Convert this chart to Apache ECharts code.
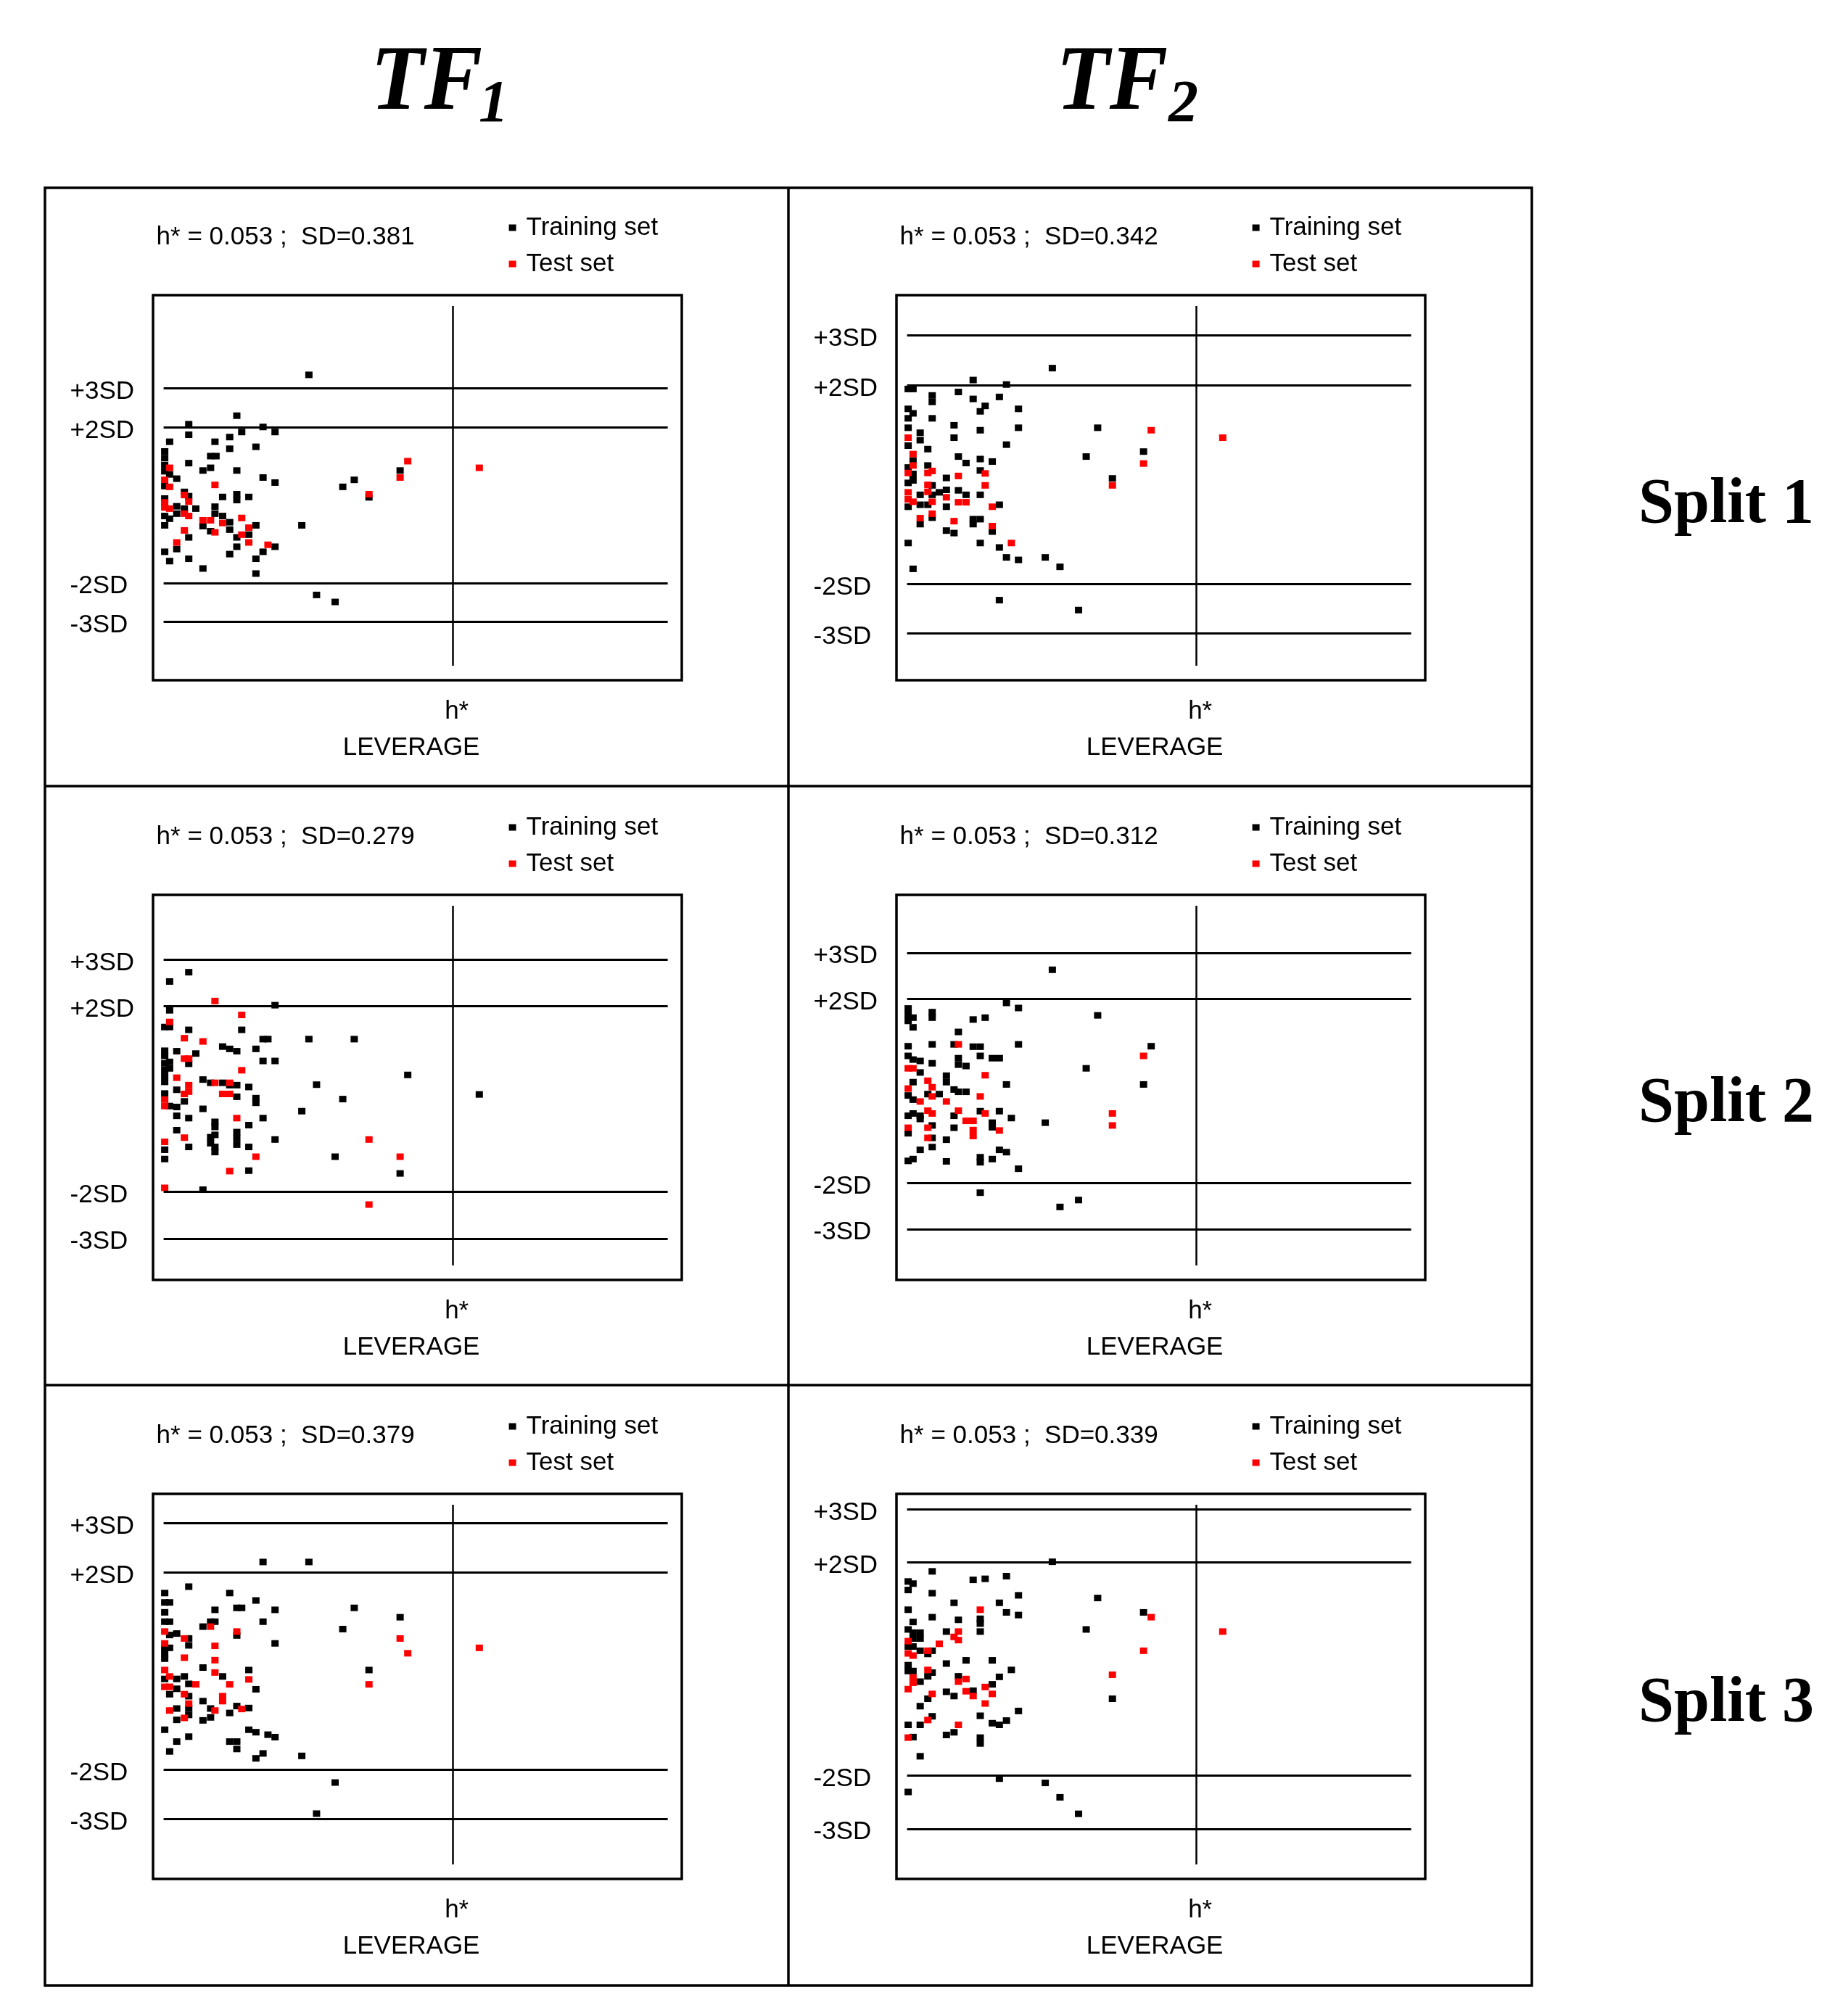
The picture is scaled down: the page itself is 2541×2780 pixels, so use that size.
<!DOCTYPE html>
<html>
<head>
<meta charset="utf-8">
<script src="https://cdn.jsdelivr.net/npm/echarts@6/dist/echarts.min.js"></script>
<style>
html, body { margin: 0; padding: 0; background: #fff; }
#chart { width: 2541px; height: 2780px; }
</style>
</head>
<body>
<div id="chart"></div>
<script>
// Williams plots: leverage vs standardized residual, 2 models x 3 splits
var hStar = 0.053;
var modelNames = ["TF", "TF"];
var modelSubs = ["1", "2"];
var splitNames = ["Split 1", "Split 2", "Split 3"];
// panel order: split1 TF1, split1 TF2, split2 TF1, split2 TF2, split3 TF1, split3 TF2
var sdValues = ["0.381", "0.342", "0.279", "0.312", "0.379", "0.339"];
var sdLimits = [3, 2, -2, -3];
var yAxisMax = [5.12, 3.59, 4.16, 4.02, 3.37, 3.08];
var yAxisMin = [-4.13, -3.65, -3.58, -3.79, -3.92, -3.67];
var xAxisMax = 0.0923;

// [leverage, residual in SD units]
var trainS1TF1 = [[0.0266,3.35],[0.0134,2.30],[0.0046,2.08],[0.0182,2.01],[0.0143,1.88],[0.0204,1.88],[0.0046,1.81],[0.0121,1.75],[0.0011,1.63],[0.0094,1.63],[0.0169,1.50],[0.0121,1.45],[0.0086,1.26],[0.0096,1.26],[0.0002,1.38],[0.0002,1.21],[0.0002,1.03],[0.0002,0.87],[0.0002,0.49],[0.0046,1.08],[0.0086,0.96],[0.0072,0.89],[0.0134,0.89],[0.0011,0.79],[0.0024,0.68],[0.0182,0.71],[0.0204,0.58],[0.0349,0.65],[0.0328,0.47],[0.0433,0.89],[0.0376,0.20],[0.0038,0.34],[0.0046,0.23],[0.0108,0.21],[0.0134,0.28],[0.0134,0.13],[0.0156,0.21],[0.0002,0.17],[0.0024,-0.03],[0.0038,-0.09],[0.0059,-0.09],[0.0094,-0.04],[0.0094,-0.22],[0.0002,-0.28],[0.0011,-0.35],[0.0024,-0.22],[0.0108,-0.28],[0.0121,-0.44],[0.0121,-0.63],[0.0002,-0.52],[0.0072,-0.54],[0.0169,-0.52],[0.0253,-0.52],[0.0086,-0.67],[0.0156,-0.76],[0.0134,-0.83],[0.0134,-1.07],[0.0046,-0.83],[0.0024,-1.13],[0.0204,-1.07],[0.0182,-1.20],[0.0002,-1.20],[0.0121,-1.26],[0.0011,-1.44],[0.0046,-1.38],[0.0169,-1.38],[0.0072,-1.63],[0.0169,-1.76],[0.0280,-2.31],[0.0314,-2.49]];
var testS1TF1 = [[0.0011,0.96],[0.0002,0.65],[0.0011,0.47],[0.0094,0.52],[0.0433,0.71],[0.0447,1.13],[0.0578,0.96],[0.0376,0.28],[0.0038,0.26],[0.0046,0.09],[0.0002,0.07],[0.0002,-0.06],[0.0011,-0.09],[0.0038,-0.22],[0.0046,-0.28],[0.0072,-0.39],[0.0086,-0.39],[0.0108,-0.46],[0.0143,-0.33],[0.0156,-0.58],[0.0038,-0.65],[0.0094,-0.70],[0.0143,-0.76],[0.0156,-0.96],[0.0024,-0.96],[0.0191,-1.02]];

var trainS1TF2 = [[0.0266,2.34],[0.0121,2.10],[0.0182,2.01],[0.0002,1.92],[0.0011,1.92],[0.0094,1.86],[0.0046,1.79],[0.0046,1.66],[0.0169,1.76],[0.0121,1.72],[0.0143,1.58],[0.0134,1.47],[0.0204,1.52],[0.0002,1.52],[0.0011,1.43],[0.0002,1.33],[0.0046,1.33],[0.0086,1.19],[0.0002,1.14],[0.0134,1.09],[0.0204,1.14],[0.0349,1.14],[0.0024,1.04],[0.0024,0.89],[0.0086,0.94],[0.0002,0.78],[0.0182,0.80],[0.0038,0.71],[0.0433,0.66],[0.0328,0.56],[0.0094,0.56],[0.0108,0.43],[0.0134,0.51],[0.0156,0.46],[0.0011,0.48],[0.0038,0.38],[0.0002,0.34],[0.0134,0.28],[0.0011,0.21],[0.0011,0.08],[0.0002,0.03],[0.0072,0.13],[0.0376,0.12],[0.0046,-0.02],[0.0024,-0.21],[0.0059,-0.16],[0.0072,-0.11],[0.0046,-0.21],[0.0094,-0.12],[0.0108,-0.21],[0.0134,-0.21],[0.0024,-0.41],[0.0038,-0.41],[0.0002,-0.45],[0.0072,-0.45],[0.0169,-0.41],[0.0024,-0.80],[0.0046,-0.67],[0.0121,-0.70],[0.0134,-0.70],[0.0121,-0.80],[0.0072,-0.93],[0.0086,-0.98],[0.0156,-0.95],[0.0002,-1.18],[0.0134,-1.18],[0.0169,-1.27],[0.0182,-1.47],[0.0204,-1.52],[0.0253,-1.47],[0.0280,-1.66],[0.0011,-1.70],[0.0169,-2.33],[0.0314,-2.53]];
var testS1TF2 = [[0.0447,1.09],[0.0578,0.94],[0.0433,0.42],[0.0002,0.94],[0.0011,0.61],[0.0011,0.38],[0.0002,0.23],[0.0038,0.23],[0.0046,0.27],[0.0143,0.22],[0.0094,0.17],[0.0143,-0.02],[0.0376,-0.02],[0.0038,-0.01],[0.0038,-0.15],[0.0002,-0.16],[0.0002,-0.30],[0.0011,-0.35],[0.0046,-0.35],[0.0072,-0.26],[0.0094,-0.36],[0.0108,-0.36],[0.0156,-0.45],[0.0046,-0.59],[0.0024,-0.68],[0.0086,-0.74],[0.0156,-0.84],[0.0191,-1.18]];

var trainS2TF1 = [[0.0046,2.73],[0.0011,2.53],[0.0204,2.02],[0.0011,1.91],[0.0002,1.55],[0.0011,1.55],[0.0046,1.49],[0.0143,1.49],[0.0182,1.29],[0.0191,1.29],[0.0266,1.29],[0.0349,1.29],[0.0108,1.13],[0.0121,1.08],[0.0134,1.03],[0.0169,1.08],[0.0002,1.04],[0.0002,0.93],[0.0024,1.03],[0.0059,0.98],[0.0046,0.76],[0.0002,0.77],[0.0011,0.80],[0.0002,0.63],[0.0011,0.66],[0.0002,0.50],[0.0002,0.37],[0.0182,0.82],[0.0204,0.82],[0.0447,0.52],[0.0072,0.42],[0.0086,0.35],[0.0108,0.35],[0.0121,0.30],[0.0134,0.30],[0.0156,0.26],[0.0280,0.31],[0.0024,0.20],[0.0002,0.12],[0.0038,-0.05],[0.0024,-0.17],[0.0011,-0.15],[0.0134,0.05],[0.0169,0.02],[0.0169,-0.08],[0.0328,0.00],[0.0578,0.10],[0.0072,-0.21],[0.0253,-0.26],[0.0024,-0.36],[0.0046,-0.41],[0.0182,-0.41],[0.0156,-0.56],[0.0094,-0.49],[0.0094,-0.60],[0.0024,-0.67],[0.0086,-0.82],[0.0094,-0.77],[0.0086,-0.95],[0.0094,-1.03],[0.0094,-1.14],[0.0134,-0.71],[0.0134,-0.84],[0.0134,-0.98],[0.0204,-0.87],[0.0046,-1.03],[0.0156,-1.03],[0.0002,-1.09],[0.0002,-1.29],[0.0314,-1.24],[0.0156,-1.54],[0.0433,-1.60],[0.0072,-1.95]];
var testS2TF1 = [[0.0094,2.11],[0.0143,1.81],[0.0011,1.66],[0.0038,1.31],[0.0072,1.24],[0.0038,0.87],[0.0046,0.87],[0.0143,0.62],[0.0024,0.46],[0.0046,0.30],[0.0046,0.16],[0.0038,0.11],[0.0094,0.35],[0.0121,0.35],[0.0108,0.11],[0.0121,0.11],[0.0002,-0.01],[0.0002,-0.15],[0.0134,-0.41],[0.0038,-0.83],[0.0002,-0.92],[0.0376,-0.87],[0.0169,-1.24],[0.0433,-1.24],[0.0121,-1.55],[0.0002,-1.91],[0.0376,-2.27]];

var trainS2TF2 = [[0.0266,2.63],[0.0182,1.91],[0.0204,1.80],[0.0002,1.79],[0.0002,1.65],[0.0011,1.59],[0.0002,1.52],[0.0046,1.71],[0.0046,1.59],[0.0121,1.55],[0.0143,1.59],[0.0349,1.64],[0.0011,1.38],[0.0094,1.28],[0.0002,0.97],[0.0046,1.01],[0.0086,1.01],[0.0121,0.96],[0.0134,0.96],[0.0204,1.01],[0.0447,0.97],[0.0002,0.76],[0.0011,0.68],[0.0024,0.65],[0.0046,0.60],[0.0094,0.71],[0.0094,0.57],[0.0108,0.54],[0.0134,0.76],[0.0156,0.71],[0.0169,0.71],[0.0328,0.49],[0.0024,0.40],[0.0072,0.33],[0.0072,0.19],[0.0011,0.19],[0.0182,0.14],[0.0433,0.14],[0.0086,0.03],[0.0094,-0.02],[0.0108,-0.02],[0.0059,-0.07],[0.0002,-0.10],[0.0011,-0.19],[0.0038,-0.07],[0.0134,-0.44],[0.0169,-0.44],[0.0002,-0.54],[0.0011,-0.49],[0.0024,-0.54],[0.0024,-0.61],[0.0086,-0.54],[0.0191,-0.59],[0.0046,-0.75],[0.0156,-0.69],[0.0156,-0.79],[0.0253,-0.69],[0.0002,-0.92],[0.0086,-0.80],[0.0046,-1.02],[0.0072,-1.06],[0.0024,-1.28],[0.0046,-1.22],[0.0169,-1.28],[0.0182,-1.33],[0.0002,-1.52],[0.0011,-1.48],[0.0072,-1.53],[0.0134,-1.44],[0.0134,-1.55],[0.0156,-1.48],[0.0204,-1.69],[0.0134,-2.21],[0.0314,-2.37],[0.0280,-2.52]];
var testS2TF2 = [[0.0094,1.01],[0.0433,0.76],[0.0002,0.49],[0.0011,0.49],[0.0143,0.34],[0.0038,0.22],[0.0046,0.08],[0.0002,0.05],[0.0046,-0.12],[0.0024,-0.23],[0.0072,-0.23],[0.0134,-0.12],[0.0038,-0.43],[0.0046,-0.49],[0.0094,-0.43],[0.0143,-0.49],[0.0376,-0.49],[0.0108,-0.65],[0.0121,-0.65],[0.0121,-0.85],[0.0121,-0.98],[0.0376,-0.75],[0.0002,-0.80],[0.0038,-0.80],[0.0169,-0.86],[0.0038,-1.02]];

var trainS3TF1 = [[0.0182,2.21],[0.0266,2.21],[0.0046,1.71],[0.0002,1.58],[0.0121,1.58],[0.0169,1.43],[0.0002,1.39],[0.0011,1.39],[0.0134,1.28],[0.0143,1.28],[0.0094,1.24],[0.0204,1.24],[0.0349,1.28],[0.0002,1.19],[0.0433,1.09],[0.0002,1.00],[0.0011,1.00],[0.0086,1.00],[0.0094,1.00],[0.0182,1.00],[0.0072,0.90],[0.0328,0.85],[0.0011,0.73],[0.0024,0.76],[0.0046,0.66],[0.0046,0.52],[0.0134,0.72],[0.0204,0.56],[0.0002,0.47],[0.0011,0.47],[0.0002,0.35],[0.0002,0.25],[0.0072,0.07],[0.0156,0.02],[0.0002,-0.16],[0.0024,-0.16],[0.0038,-0.11],[0.0046,-0.26],[0.0024,-0.36],[0.0011,-0.47],[0.0046,-0.51],[0.0108,-0.11],[0.0169,-0.37],[0.0376,0.02],[0.0072,-0.61],[0.0024,-0.76],[0.0046,-0.76],[0.0046,-0.89],[0.0086,-0.76],[0.0086,-0.94],[0.0072,-1.00],[0.0134,-0.71],[0.0156,-0.75],[0.0121,-0.85],[0.0024,-0.99],[0.0002,-1.19],[0.0156,-1.19],[0.0169,-1.24],[0.0191,-1.29],[0.0204,-1.34],[0.0046,-1.33],[0.0024,-1.43],[0.0121,-1.43],[0.0134,-1.43],[0.0134,-1.58],[0.0011,-1.63],[0.0182,-1.67],[0.0169,-1.77],[0.0253,-1.72],[0.0314,-2.26],[0.0280,-2.89]];
var testS3TF1 = [[0.0086,0.90],[0.0134,0.80],[0.0002,0.80],[0.0038,0.66],[0.0002,0.56],[0.0094,0.51],[0.0433,0.66],[0.0447,0.36],[0.0578,0.47],[0.0038,0.27],[0.0094,0.22],[0.0002,0.02],[0.0094,-0.03],[0.0011,-0.11],[0.0156,-0.17],[0.0002,-0.32],[0.0011,-0.32],[0.0059,-0.27],[0.0121,-0.27],[0.0376,-0.27],[0.0038,-0.47],[0.0108,-0.51],[0.0108,-0.61],[0.0046,-0.66],[0.0011,-0.80],[0.0094,-0.80],[0.0143,-0.77],[0.0038,-0.95]];

var trainS3TF2 = [[0.0266,2.01],[0.0046,1.83],[0.0182,1.74],[0.0121,1.67],[0.0143,1.69],[0.0002,1.64],[0.0011,1.60],[0.0002,1.48],[0.0046,1.42],[0.0204,1.38],[0.0349,1.33],[0.0086,1.24],[0.0169,1.24],[0.0002,1.11],[0.0182,1.06],[0.0204,1.01],[0.0433,1.06],[0.0046,0.97],[0.0094,0.92],[0.0134,0.94],[0.0134,0.85],[0.0011,0.88],[0.0328,0.74],[0.0002,0.74],[0.0011,0.68],[0.0024,0.68],[0.0011,0.57],[0.0024,0.57],[0.0072,0.70],[0.0134,0.70],[0.0002,0.42],[0.0011,0.42],[0.0024,0.34],[0.0046,0.34],[0.0038,0.28],[0.0108,0.16],[0.0156,0.16],[0.0072,0.10],[0.0002,0.07],[0.0002,-0.04],[0.0011,-0.04],[0.0046,-0.07],[0.0191,-0.02],[0.0038,-0.14],[0.0024,-0.24],[0.0169,-0.15],[0.0094,-0.14],[0.0156,-0.29],[0.0072,-0.43],[0.0086,-0.51],[0.0121,-0.41],[0.0376,-0.56],[0.0038,-0.56],[0.0024,-0.70],[0.0204,-0.79],[0.0046,-0.89],[0.0134,-0.88],[0.0156,-1.02],[0.0169,-1.05],[0.0182,-0.97],[0.0002,-1.05],[0.0024,-1.05],[0.0072,-1.24],[0.0086,-1.19],[0.0011,-1.28],[0.0134,-1.29],[0.0134,-1.40],[0.0024,-1.64],[0.0169,-2.06],[0.0253,-2.14],[0.0002,-2.31],[0.0280,-2.41],[0.0314,-2.72]];
var testS3TF2 = [[0.0134,1.11],[0.0447,0.97],[0.0578,0.70],[0.0094,0.70],[0.0086,0.60],[0.0094,0.54],[0.0059,0.47],[0.0002,0.52],[0.0038,0.34],[0.0433,0.34],[0.0002,0.29],[0.0011,0.25],[0.0038,-0.02],[0.0011,-0.16],[0.0011,-0.26],[0.0094,-0.24],[0.0108,-0.19],[0.0143,-0.34],[0.0376,-0.11],[0.0002,-0.38],[0.0108,-0.42],[0.0121,-0.51],[0.0156,-0.47],[0.0046,-0.47],[0.0143,-0.65],[0.0038,-0.96],[0.0094,-1.05],[0.0002,-1.29]];

var trainSets = [trainS1TF1, trainS1TF2, trainS2TF1, trainS2TF2, trainS3TF1, trainS3TF2];
var testSets = [testS1TF1, testS1TF2, testS2TF1, testS2TF2, testS3TF1, testS3TF2];

// layout (px)
var colX = [225.6, 1250.6];
var rowY = [422, 1249, 2075];
var gridW = 695, gridH = 496;
var labelFont = '"Liberation Sans", Arial, sans-serif';
var labelSize = 35;

var myChart = echarts.init(document.getElementById("chart"));

var grids = [], xAxes = [], yAxes = [], series = [], legends = [], graphics = [];

// table frame
graphics.push({ type: "rect", shape: { x: 62, y: 259, width: 2050, height: 2479 }, style: { fill: "none", stroke: "#000", lineWidth: 3.5 } });
graphics.push({ type: "line", shape: { x1: 1087, y1: 259, x2: 1087, y2: 2738 }, style: { stroke: "#000", lineWidth: 3.5 } });
graphics.push({ type: "line", shape: { x1: 62, y1: 1084, x2: 2112, y2: 1084 }, style: { stroke: "#000", lineWidth: 3.5 } });
graphics.push({ type: "line", shape: { x1: 62, y1: 1910, x2: 2112, y2: 1910 }, style: { stroke: "#000", lineWidth: 3.5 } });

// column titles TF1 / TF2
var titleX = [511, 1456];
var subX = [660, 1611];
for (var c = 0; c < 2; c++) {
    graphics.push({
        type: "text", x: titleX[c], y: 117, scaleX: 0.95,
        style: { text: modelNames[c], font: 'italic bold 127px "Liberation Serif", serif', fill: "#000", align: "left", verticalAlign: "middle", textAlign: "left", textVerticalAlign: "middle" }
    });
    graphics.push({
        type: "text", x: subX[c], y: 146,
        style: { text: modelSubs[c], font: 'italic bold 82px "Liberation Serif", serif', fill: "#000", align: "left", verticalAlign: "middle", textAlign: "left", textVerticalAlign: "middle" }
    });
}

// row labels
for (var r = 0; r < 3; r++) {
    graphics.push({
        type: "text", x: 2259, y: 697 + r * 826.5,
        style: { text: splitNames[r], font: 'bold 88px "Liberation Serif", serif', fill: "#000", align: "left", verticalAlign: "middle", textAlign: "left", textVerticalAlign: "middle" }
    });
}

for (var i = 0; i < 6; i++) {
    var row = Math.floor(i / 2), col = i % 2;
    var gl = colX[col], gt = rowY[row];

    grids.push({ left: gl, top: gt, width: gridW, height: gridH, containLabel: false });

    xAxes.push({
        gridIndex: i, type: "value", min: 0, max: xAxisMax,
        axisLine: { show: false }, axisTick: { show: false }, splitLine: { show: false },
        axisLabel: { customValues: [hStar], formatter: function () { return "h*"; }, margin: 63, verticalAlign: "middle", padding: [0, 0, 0, 10], color: "#000", fontFamily: labelFont, fontSize: labelSize },
        name: "LEVERAGE", nameLocation: "middle", nameGap: 113,
        nameTextStyle: { verticalAlign: "middle", padding: [0, 12, 0, 0], color: "#000", fontFamily: labelFont, fontSize: labelSize }
    });

    yAxes.push({
        gridIndex: i, type: "value", min: yAxisMin[i], max: yAxisMax[i],
        axisLine: { show: false }, axisTick: { show: false }, splitLine: { show: false },
        axisLabel: {
            customValues: sdLimits,
            formatter: function (v) { return (v > 0 ? "+" : "") + v + "SD"; },
            align: "left", verticalAlign: "top", lineHeight: 10, margin: 129,
            color: "#000", fontFamily: labelFont, fontSize: labelSize
        }
    });

    series.push({
        name: "Training set", type: "scatter", xAxisIndex: i, yAxisIndex: i,
        data: trainSets[i], symbol: "rect", symbolSize: [10, 9],
        itemStyle: { color: "#000", opacity: 1 }, silent: true,
        markLine: {
            silent: true, symbol: "none", precision: 4, label: { show: false },
            lineStyle: { color: "#000", width: 3, type: "solid" },
            data: [
                { yAxis: sdLimits[0] }, { yAxis: sdLimits[1] }, { yAxis: sdLimits[2] }, { yAxis: sdLimits[3] },
                { xAxis: hStar, lineStyle: { width: 2.5 } }
            ]
        }
    });
    series.push({
        name: "Test set", type: "scatter", xAxisIndex: i, yAxisIndex: i,
        data: testSets[i], symbol: "rect", symbolSize: [10, 9],
        itemStyle: { color: "#ff0000", opacity: 1 }, silent: true
    });

    legends.push({
        left: gl + 476, top: gt - 133, orient: "vertical", itemGap: 0, padding: 0,
        itemWidth: 10, itemHeight: 9, icon: "rect", selectedMode: false,
        data: ["Training set", "Test set"],
        textStyle: { color: "#000", fontFamily: labelFont, fontSize: labelSize, lineHeight: 50, padding: [0, 0, 0, 9] }
    });

    // plot frame
    graphics.push({ type: "rect", shape: { x: gl - 14.6, y: gt - 15, width: gridW + 34, height: gridH + 35 }, style: { fill: "none", stroke: "#000", lineWidth: 3.5 } });

    // h* and SD header
    graphics.push({
        type: "text", x: gl - 10, y: gt - 95,
        style: { text: "h* = " + hStar + " ;  SD=" + sdValues[i], font: labelSize + "px " + labelFont, fill: "#000", align: "left", verticalAlign: "middle", textAlign: "left", textVerticalAlign: "middle" }
    });
}

var option = {
    animation: false,
    backgroundColor: "#fff",
    grid: grids,
    xAxis: xAxes,
    yAxis: yAxes,
    legend: legends,
    series: series,
    graphic: graphics
};

myChart.setOption(option);
</script>
</body>
</html>
